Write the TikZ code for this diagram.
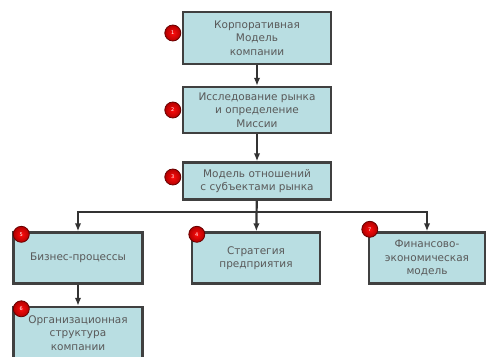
\documentclass[tikz,border=0pt]{standalone}
\usepackage{fontspec}
\setmainfont{DejaVu Sans}
\usetikzlibrary{arrows.meta,positioning}
\definecolor{tealbox}{HTML}{B9DEE2}
\begin{document}
\begin{tikzpicture}[x=1pt,y=-1pt,>={Latex[length=8pt,width=6.5pt]},
 blk/.style={draw=black!75,line width=2.4pt,fill=tealbox,align=center,inner sep=2pt,
  font=\fontsize{10.5}{13.5}\selectfont,text=black!65},
 num/.style={circle,draw=red!40!black,line width=.8pt,inner color=red!95!white,outer color=red!70!black,
  inner sep=0pt,minimum size=16pt,text=white,font=\fontsize{5}{5}\selectfont},
 link/.style={draw=black!80,line width=2.2pt,->}]
 \useasboundingbox (0,0) rectangle (487,356);
 % top chain
 \node[blk,minimum width=148pt,minimum height=52pt] (corp) at (257,38) {Корпоративная\\Модель\\компании};
 \node[blk,minimum width=148pt,minimum height=46pt] (market) at (257,110) {Исследование рынка\\и определение\\Миссии};
 \node[blk,minimum width=148pt,minimum height=37pt] (rel) at (257,181) {Модель отношений\\с субъектами рынка};
 % lower row
 \node[blk,minimum width=129pt,minimum height=51pt] (proc) at (78,258) {Бизнес-процессы};
 \node[blk,minimum width=128pt,minimum height=51pt] (strat) at (256,258) {Стратегия\\предприятия};
 \node[blk,minimum width=116pt,minimum height=51pt] (fin) at (427,258) {Финансово-\\экономическая\\модель};
 \node[blk,minimum width=129pt,minimum height=52pt] (org) at (78,333) {Организационная\\структура\\компании};
 % numbers
 \node[num] (n1) at (corp.west) [xshift=-9pt,yshift=5pt] {1};
 \node[num] (n2) at (market.west) [xshift=-9pt] {2};
 \node[num] (n3) at (rel.west) [xshift=-9pt,yshift=4pt] {3};
 \node[num] (n5) at (proc.north west) [xshift=9pt,yshift=-3pt] {5};
 \node[num] (n4) at (strat.north west) [xshift=6pt,yshift=-3pt] {4};
 \node[num] (n7) at (fin.north west) [xshift=2pt,yshift=2pt] {7};
 \node[num] (n6) at (org.north west) [xshift=9pt,yshift=-3pt] {6};
 % connectors
 \draw[link] (corp) -- (market);
 \draw[link] (market) -- (rel);
 \coordinate (bus) at ([yshift=-11pt]rel.south);
 \draw[link] (rel) -- (strat);
 \draw[link] (bus) -| (proc.north);
 \draw[link] (bus) -| (fin.north);
 \draw[link] (proc) -- (org);
\end{tikzpicture}
\end{document}
